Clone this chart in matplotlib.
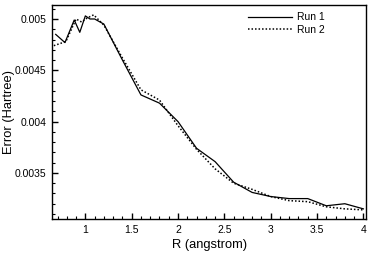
import matplotlib
matplotlib.use("Agg")
import matplotlib.pyplot as plt
from matplotlib.ticker import MultipleLocator

plt.rcParams['font.family'] = ['Liberation Sans', 'DejaVu Sans']

r_run1 = [0.68, 0.78, 0.88, 0.94, 1.0, 1.05, 1.1, 1.2, 1.4, 1.6, 1.8, 2.0, 2.2, 2.4, 2.6, 2.8, 3.0, 3.2, 3.4, 3.6, 3.8, 4.0]
err_run1 = [0.00485, 0.00477, 0.00499, 0.00487, 0.00503, 0.00500, 0.00500, 0.00495, 0.00460, 0.00426, 0.00418, 0.00400,
            0.00374, 0.00361, 0.00341, 0.00331, 0.00327, 0.00325, 0.00325, 0.00318, 0.00320, 0.00315]

r_run2 = [0.66, 0.79, 0.90, 0.96, 1.02, 1.09, 1.2, 1.4, 1.6, 1.8, 2.0, 2.2, 2.4, 2.6, 2.8, 3.0, 3.2, 3.4, 3.6, 3.8, 4.0]
err_run2 = [0.00474, 0.00478, 0.00500, 0.00497, 0.00501, 0.00504, 0.00494, 0.00462, 0.00431, 0.00421, 0.00396,
            0.00373, 0.00354, 0.00340, 0.00334, 0.00327, 0.00323, 0.00322, 0.00317, 0.00315, 0.00314]

x_ticks = [1, 1.5, 2, 2.5, 3, 3.5, 4]
x_ticklabels = ['1', '1.5', '2', '2.5', '3', '3.5', '4']
y_ticks = [0.0035, 0.004, 0.0045, 0.005]
y_ticklabels = ['0.0035', '0.004', '0.0045', '0.005']

fig = plt.figure(figsize=(3.74, 2.64), dpi=100)
ax = fig.add_axes([0.139, 0.170, 0.840, 0.811])

ax.plot(r_run1, err_run1, color='black', lw=0.9, label='Run 1')
ax.plot(r_run2, err_run2, color='black', lw=1.1, linestyle=(0, (1, 1.3)), label='Run 2')

ax.set_xlim(0.64, 4.03)
ax.set_ylim(0.00305, 0.005136)
ax.set_xticks(x_ticks)
ax.set_xticklabels(x_ticklabels)
ax.set_yticks(y_ticks)
ax.set_yticklabels(y_ticklabels)
ax.xaxis.set_minor_locator(MultipleLocator(0.1))
ax.yaxis.set_minor_locator(MultipleLocator(0.0001))
ax.tick_params(axis='both', which='major', direction='in', length=4, width=1, labelsize=7.5, pad=4)
ax.tick_params(axis='both', which='minor', direction='in', length=2, width=0.8)
ax.tick_params(top=False, right=False)
for s in ax.spines.values():
    s.set_linewidth(1.0)

ax.set_xlabel('R (angstrom)', fontsize=9.3, labelpad=3)
ax.set_ylabel('Error (Hartree)', fontsize=9.3)
ax.yaxis.set_label_coords(-0.118, 0.5)

leg = ax.legend(loc='upper right', bbox_to_anchor=(0.892, 1.0), frameon=False, fontsize=7.5,
                handlelength=4.2, handletextpad=0.5, labelspacing=0.25, borderaxespad=0.3)

fig.savefig('out.png', dpi=100)
